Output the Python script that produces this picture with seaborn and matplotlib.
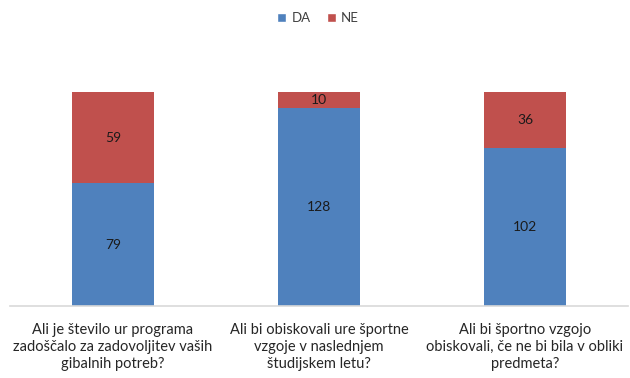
import matplotlib
matplotlib.use("Agg")
import matplotlib.pyplot as plt
import seaborn as sns
import pandas as pd
from matplotlib.patches import Patch

questions = [
    "Ali je število ur programa\nzadoščalo za zadovoljitev vaših\ngibalnih potreb?",
    "Ali bi obiskovali ure športne\nvzgoje v naslednjem\nštudijskem letu?",
    "Ali bi športno vzgojo\nobiskovali, če ne bi bila v obliki\npredmeta?",
]
da_counts = [79, 128, 102]
ne_counts = [59, 10, 36]
series_names = ["DA", "NE"]

BLUE = "#4F81BD"
RED = "#C0504D"

sns.set_theme(style="white")
plt.rcParams["font.family"] = ["Lato", "DejaVu Sans"]

df = pd.DataFrame({
    "question": questions,
    "DA": da_counts,
    "NE": ne_counts,
})
df["total"] = df["DA"] + df["NE"]

fig = plt.figure(figsize=(6.3, 3.78), dpi=100)
ax = fig.add_axes([10 / 630, 72 / 378, 618 / 630, 232.6 / 378])

# stacked bars: full height in NE colour, DA segment drawn over it
sns.barplot(data=df, x="question", y="total", color=RED, width=0.4,
            saturation=1, linewidth=0, ax=ax)
sns.barplot(data=df, x="question", y="DA", color=BLUE, width=0.4,
            saturation=1, linewidth=0, ax=ax)

for i, (da, ne) in enumerate(zip(da_counts, ne_counts)):
    ax.text(i, da / 2, str(da), ha="center", va="center",
            fontsize=10, color="#1a1a1a")
    ax.text(i, da + ne / 2, str(ne), ha="center", va="center",
            fontsize=10, color="#1a1a1a")

ax.set_ylim(0, 150)
ax.set_xlim(-0.5, 2.5)
ax.set_xlabel("")
ax.set_ylabel("")
ax.set_yticks([])
ax.tick_params(axis="x", length=0, pad=12, labelsize=10.5, labelcolor="#262626")
for lbl in ax.get_xticklabels():
    lbl.set_linespacing(1.3)
for side in ["top", "left", "right"]:
    ax.spines[side].set_visible(False)
ax.spines["bottom"].set_color("#D9D9D9")
ax.spines["bottom"].set_linewidth(1.2)

handles = [Patch(facecolor=BLUE, label=series_names[0]),
           Patch(facecolor=RED, label=series_names[1])]
fig.legend(handles=handles, loc="upper center", bbox_to_anchor=(0.505, 1.0),
           ncol=2, frameon=False, fontsize=9.5, handlelength=0.7,
           handleheight=0.7, handletextpad=0.4, columnspacing=1.2,
           labelcolor="#404040")

fig.savefig("out.png", dpi=100, facecolor="white")
